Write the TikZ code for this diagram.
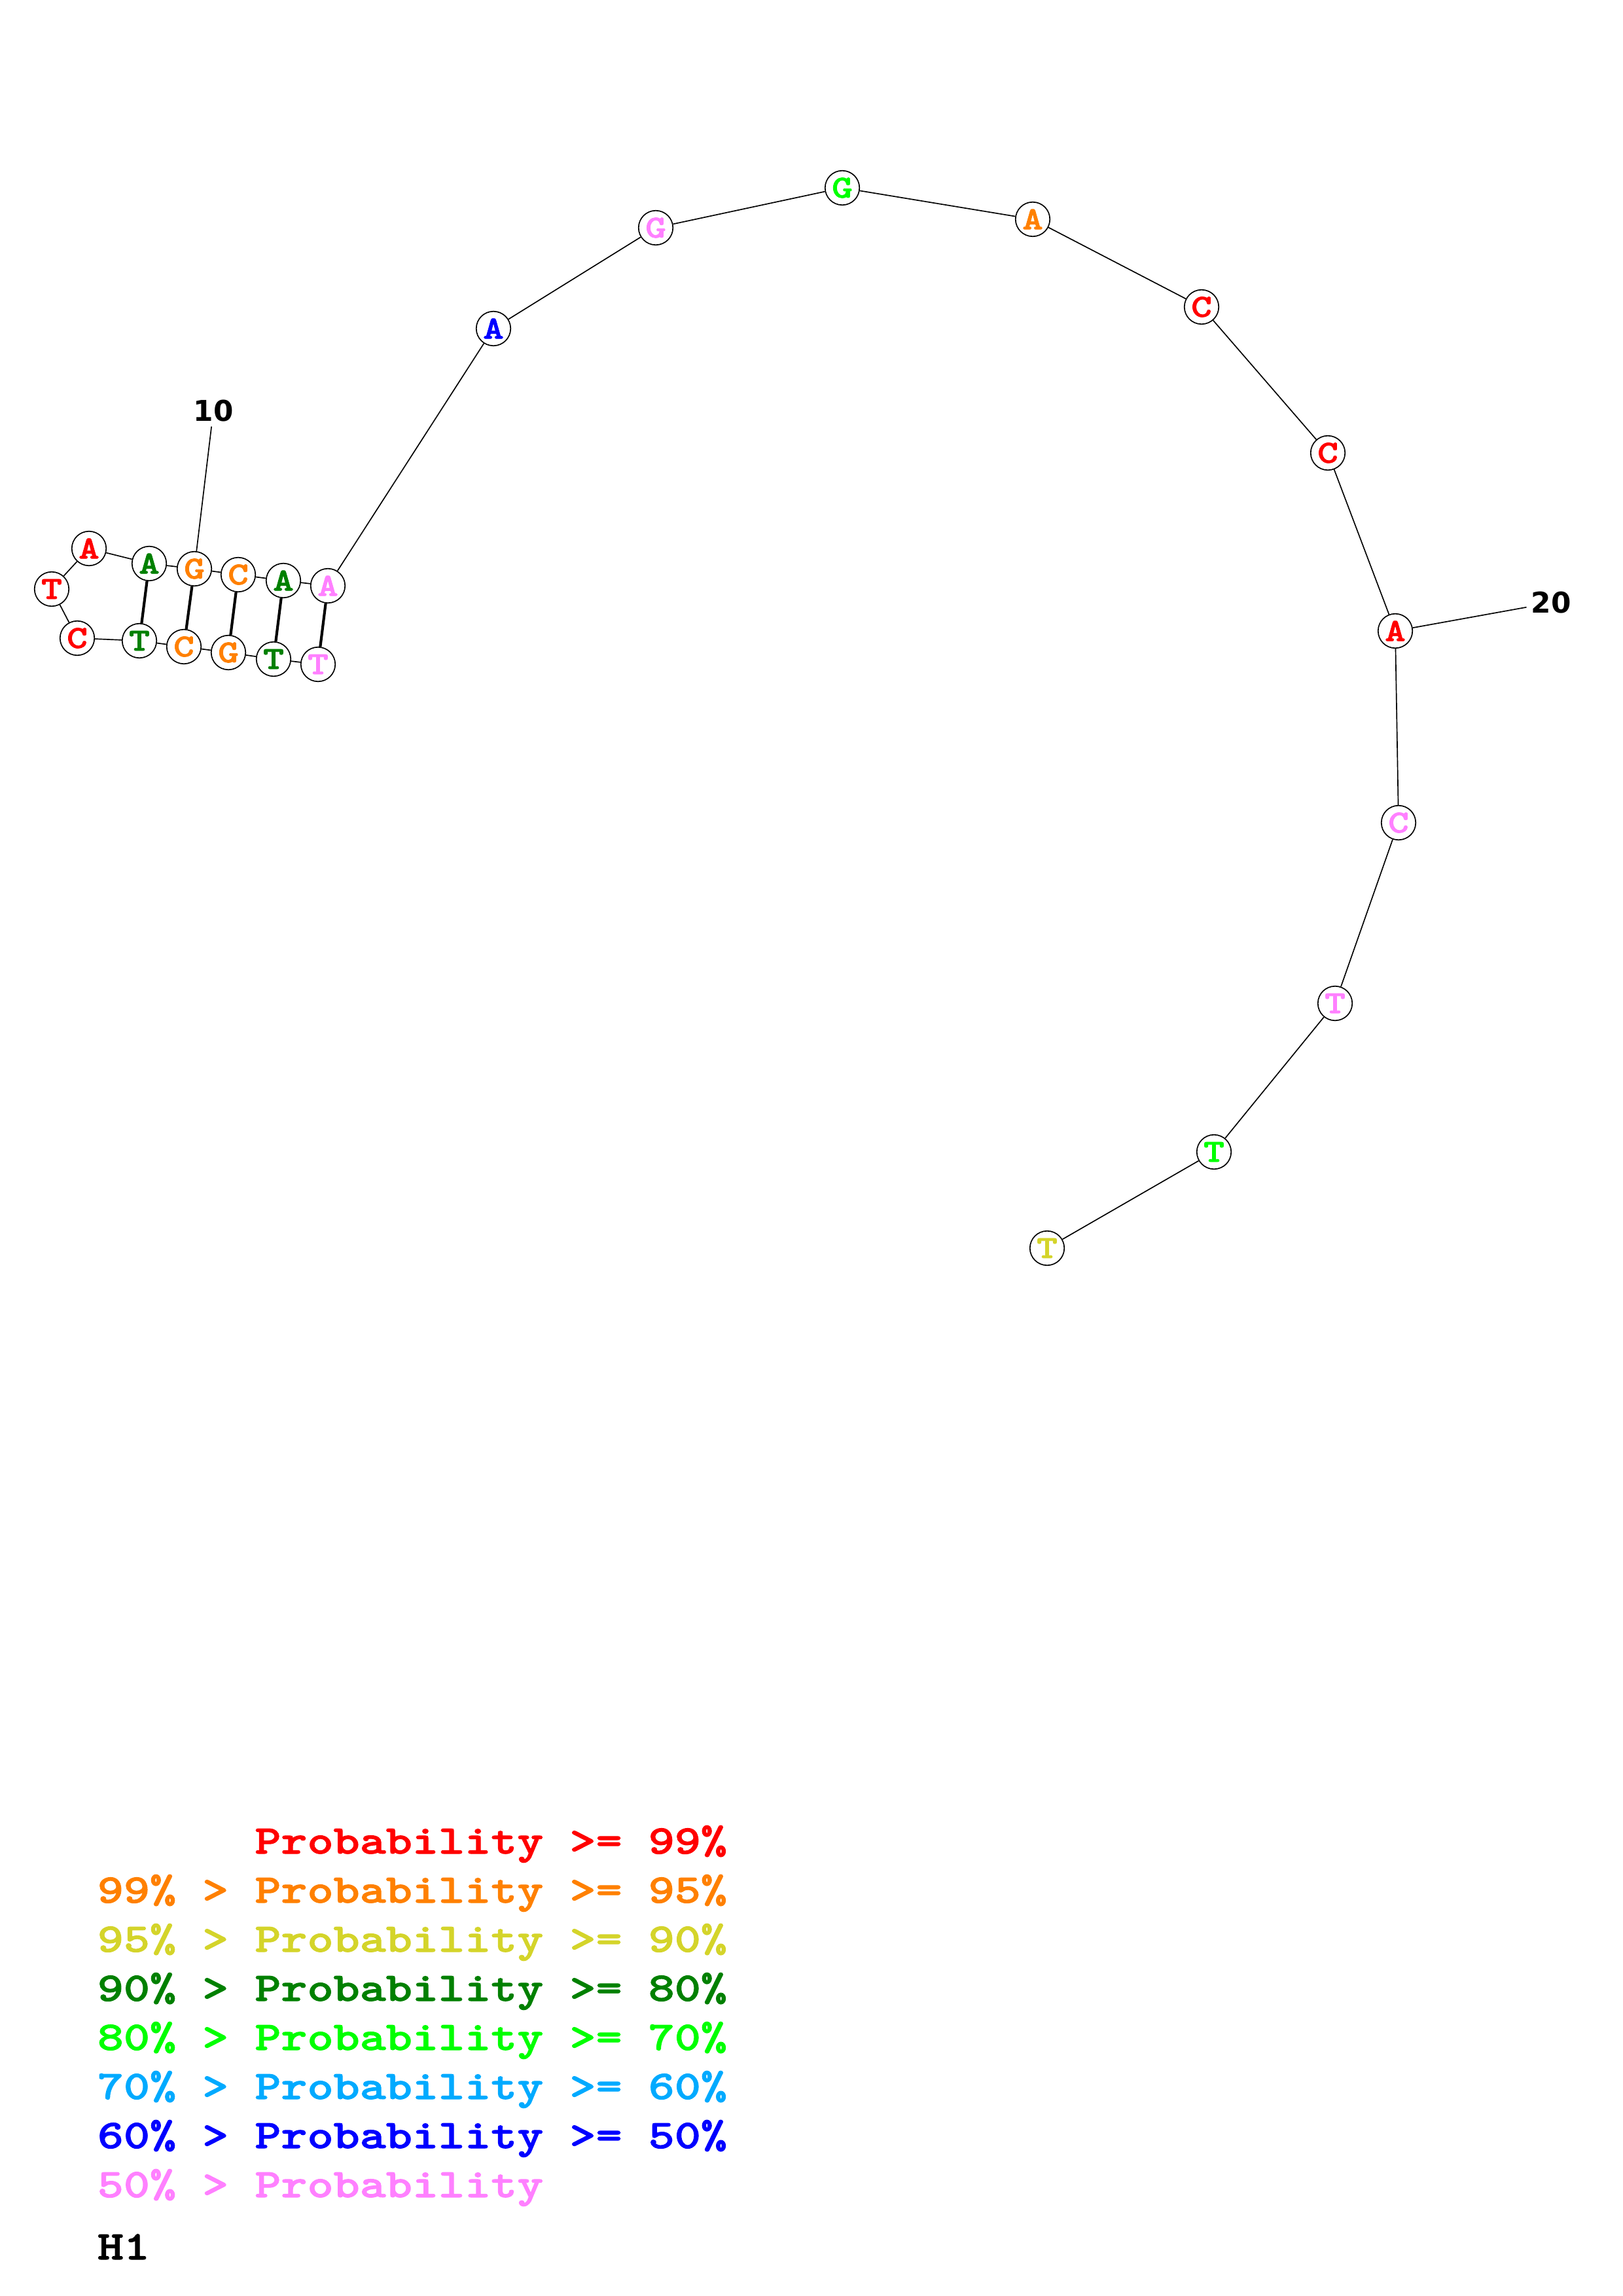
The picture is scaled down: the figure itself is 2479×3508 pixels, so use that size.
\documentclass[tikz,border=0pt]{standalone}
\usepackage{fontspec}
\newfontfamily\courfont{lmmonolt10-bold}[Extension=.otf, FakeStretch=1.23, FakeBold=1.6]
\newfontfamily\numfont{DejaVu Sans}

\definecolor{probred}{RGB}{255,0,0}
\definecolor{proborange}{RGB}{255,128,0}
\definecolor{probyellow}{RGB}{212,212,42}
\definecolor{probdkgreen}{RGB}{0,128,0}
\definecolor{probgreen}{RGB}{0,255,0}
\definecolor{problblue}{RGB}{0,170,255}
\definecolor{probblue}{RGB}{0,0,255}
\definecolor{probpink}{RGB}{255,128,255}

\tikzset{
  base/.style={circle, draw, line width=0.4pt, fill=white, minimum size=12.6pt, inner sep=0pt,
    font=\courfont\fontsize{11.8}{11.8}\selectfont},
  backbone/.style={line width=0.4pt},
  pair/.style={line width=1pt},
  numlabel/.style={inner sep=1.5pt, font=\numfont\bfseries\fontsize{10.5}{10.5}\selectfont},
  legend/.style={anchor=base west, inner sep=0pt, font=\courfont\fontsize{14.9}{18}\selectfont}
}

\begin{document}
\begin{tikzpicture}[x=0.24pt, y=-0.24pt]

    \useasboundingbox (0,0) rectangle (2479,3508);

    \node[base, text=probpink] (n1) at (486,1015) {T};
    \node[base, text=probdkgreen] (n2) at (418,1007) {T};
    \node[base, text=proborange] (n3) at (349,997) {G};
    \node[base, text=proborange] (n4) at (281,988) {C};
    \node[base, text=probdkgreen] (n5) at (213,979) {T};
    \node[base, text=probred] (n6) at (118,975) {C};
    \node[base, text=probred] (n7) at (79,900) {T};
    \node[base, text=probred] (n8) at (136,838) {A};
    \node[base, text=probdkgreen] (n9) at (228,861) {A};
    \node[base, text=proborange] (n10) at (297,869) {G};
    \node[base, text=proborange] (n11) at (364,878) {C};
    \node[base, text=probdkgreen] (n12) at (433,887) {A};
    \node[base, text=probpink] (n13) at (501,895) {A};
    \node[base, text=probblue] (n14) at (754,502) {A};
    \node[base, text=probpink] (n15) at (1002,348) {G};
    \node[base, text=probgreen] (n16) at (1287,287) {G};
    \node[base, text=proborange] (n17) at (1578,335) {A};
    \node[base, text=probred] (n18) at (1836,469) {C};
    \node[base, text=probred] (n19) at (2029,692) {C};
    \node[base, text=probred] (n20) at (2132,964) {A};
    \node[base, text=probpink] (n21) at (2137,1257) {C};
    \node[base, text=probpink] (n22) at (2040,1533) {T};
    \node[base, text=probgreen] (n23) at (1855,1760) {T};
    \node[base, text=probyellow] (n24) at (1600,1907) {T};

    \foreach \i [evaluate=\i as \j using int(\i+1)] in {1,...,23}
        \draw[backbone] (n\i) -- (n\j);

    \foreach \a/\b in {1/13, 2/12, 3/11, 4/10, 5/9}
        \draw[pair] (n\a) -- (n\b);

    \node[numlabel] (lab10) at (326,628) {10};
    \node[numlabel] (lab20) at (2370,921) {20};
    \draw[backbone] (n10) -- (lab10);
    \draw[backbone] (n20) -- (lab20);

    \node[legend, text=probred] (leg1) at (148,2832) {\phantom{99\% > }Probability >= 99\%};
    \node[legend, text=proborange] (leg2) at (148,2907) {99\% > Probability >= 95\%};
    \node[legend, text=probyellow] (leg3) at (148,2982) {95\% > Probability >= 90\%};
    \node[legend, text=probdkgreen] (leg4) at (148,3057) {90\% > Probability >= 80\%};
    \node[legend, text=probgreen] (leg5) at (148,3132) {80\% > Probability >= 70\%};
    \node[legend, text=problblue] (leg6) at (148,3207) {70\% > Probability >= 60\%};
    \node[legend, text=probblue] (leg7) at (148,3282) {60\% > Probability >= 50\%};
    \node[legend, text=probpink] (leg8) at (148,3357) {50\% > Probability};
    \node[legend] (title) at (148,3452) {H1};

\end{tikzpicture}
\end{document}
